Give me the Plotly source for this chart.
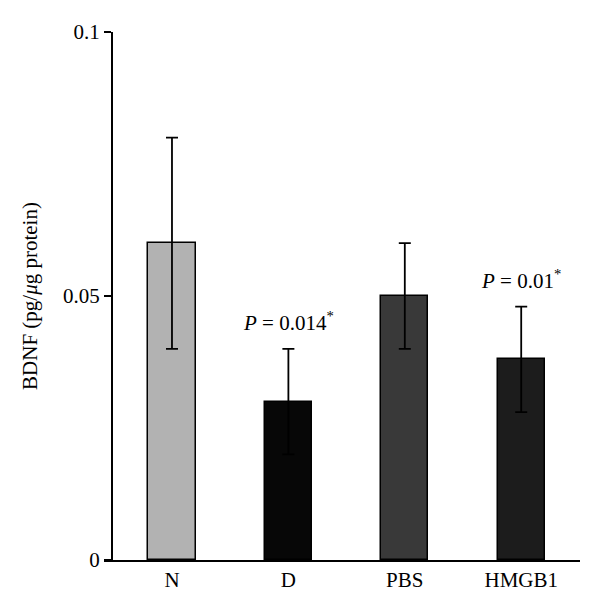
import plotly.graph_objects as go

categories = ["N", "D", "PBS", "HMGB1"]
values = [0.060, 0.030, 0.050, 0.038]
errors = [0.020, 0.010, 0.010, 0.010]
bar_colors = ["#b2b2b2", "#070707", "#393939", "#1c1c1c"]
p_labels = ["", "<i>P</i> = 0.014<sup>*</sup>", "", "<i>P</i> = 0.01<sup>*</sup>"]
y_ticks = [0, 0.05, 0.1]
y_tick_text = ["0", "0.05", "0.1"]

FONT = "Liberation Serif"

fig = go.Figure()
fig.add_trace(go.Bar(
    x=list(range(len(categories))),
    y=values,
    width=0.405,
    marker=dict(color=bar_colors, line=dict(color="#000000", width=1.5)),
    error_y=dict(type="data", array=errors, visible=True, color="#000000",
                 thickness=1.8, width=6),
    showlegend=False,
))

for i, txt in enumerate(p_labels):
    if txt:
        fig.add_annotation(x=i, y=values[i] + errors[i], text=txt, showarrow=False,
                           yshift=27, font=dict(family=FONT, size=21, color="#000"))

L, R, T, B = 96, 28, 24, 61
W, H = 600, 613
plot_w = W - L - R
fig.update_layout(
    width=W, height=H,
    margin=dict(l=L, r=R, t=T, b=B, autoexpand=False),
    plot_bgcolor="white", paper_bgcolor="white",
    font=dict(family=FONT, size=21, color="#000"),
    bargap=0,
    xaxis=dict(
        range=[-0.584, 3.505],
        tickmode="array", tickvals=list(range(len(categories))), ticktext=categories,
        showline=True, linecolor="#000", linewidth=2,
        ticks="", showgrid=False, zeroline=False, automargin=False,
        tickfont=dict(family=FONT, size=21),
    ),
    yaxis=dict(
        range=[0, 0.1],
        anchor="free", position=8 / plot_w,
        tickmode="array", tickvals=y_ticks, ticktext=y_tick_text,
        showline=True, linecolor="#000", linewidth=2,
        ticks="outside", ticklen=7, tickwidth=2, tickcolor="#000",
        showgrid=False, zeroline=False, automargin=False,
        tickfont=dict(family=FONT, size=21),
        title=dict(text="BDNF (pg/<i>μ</i>g protein)", font=dict(family=FONT, size=21), standoff=19),
    ),
)

fig.write_html("out.html")
